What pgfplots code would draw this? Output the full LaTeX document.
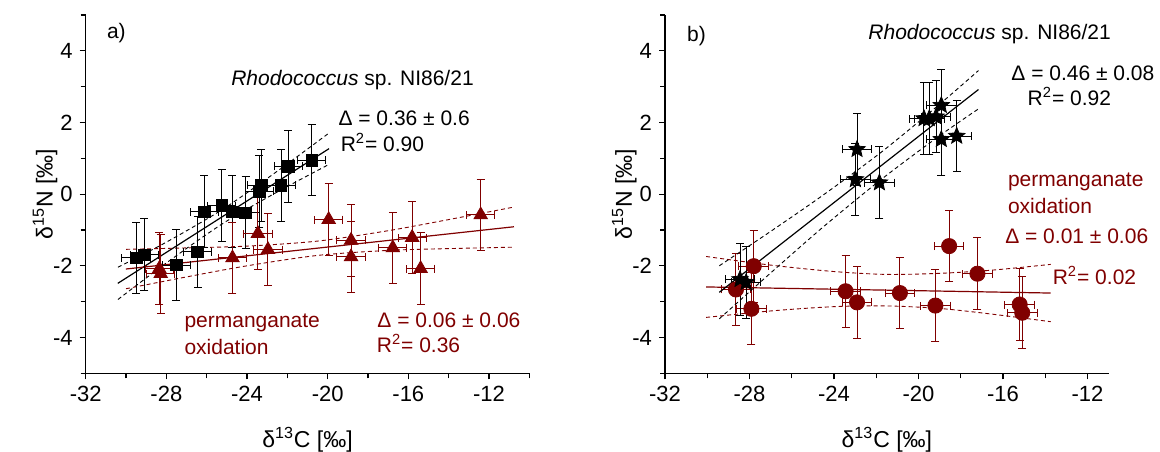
\documentclass[border=0pt]{standalone}
\usepackage{fontspec}
\setmainfont{Liberation Sans}
\usepackage{pgfplots}
\pgfplotsset{compat=1.18}
\definecolor{mr}{RGB}{128,0,0}
\pgfdeclareplotmark{fstar}{%
  \pgfpathmoveto{\pgfpointpolar{90}{\pgfplotmarksize}}%
  \pgfpathlineto{\pgfpointpolar{126}{0.45\pgfplotmarksize}}%
  \pgfpathlineto{\pgfpointpolar{162}{\pgfplotmarksize}}%
  \pgfpathlineto{\pgfpointpolar{198}{0.45\pgfplotmarksize}}%
  \pgfpathlineto{\pgfpointpolar{234}{\pgfplotmarksize}}%
  \pgfpathlineto{\pgfpointpolar{270}{0.45\pgfplotmarksize}}%
  \pgfpathlineto{\pgfpointpolar{306}{\pgfplotmarksize}}%
  \pgfpathlineto{\pgfpointpolar{342}{0.45\pgfplotmarksize}}%
  \pgfpathlineto{\pgfpointpolar{18}{\pgfplotmarksize}}%
  \pgfpathlineto{\pgfpointpolar{54}{0.45\pgfplotmarksize}}%
  \pgfpathclose\pgfusepathqfillstroke}
\newcommand{\af}{\fontsize{10.5}{12}\selectfont}
\tikzset{txt/.style={anchor=base west, inner sep=0pt, font=\af}}
\pgfplotsset{
  panel/.style={
    scale only axis, width=221.8pt, height=179.15pt,
    xmin=-32, ymin=-5, ymax=5,
    axis x line=bottom, axis y line=left,
    axis line style={-, line width=0.6pt},
    tick align=outside,
    major tick length=3pt, minor tick length=2.5pt,
    every tick/.style={black, line width=0.6pt},
    xtick={-32,-28,-24,-20,-16,-12},
    xticklabels={-32,-28,-24,-20,-16,-12},
    ytick={-4,-2,0,2,4},
    yticklabels={-4,-2,0,2,4},
    minor ytick={-5,-3,-1,1,3,5},
    ticklabel style={font=\fontsize{11}{13}\selectfont},
    xlabel={δ\textsuperscript{13}C [‰]},
    ylabel={δ\textsuperscript{15}N [‰]},
    label style={font=\fontsize{11.5}{13}\selectfont},
    xlabel style={at={(axis description cs:0.5,-0.186)}, anchor=center},
    ylabel style={at={(axis description cs:-0.0915,0.5)}, anchor=center},
    clip=false,
  },
  eb/.style={only marks, error bars/.cd, x dir=both, x explicit, y dir=both, y explicit,
    error bar style={line width=0.5pt, #1},
    error mark options={rotate=90, mark size=2pt, line width=0.5pt, #1}, /pgfplots/.cd},
  band/.style={#1, line width=0.45pt, dash pattern=on 2pt off 1.5pt, smooth},
}
\begin{document}
\begin{tikzpicture}
\path[use as bounding box] (0,0) rectangle (580pt,225.5pt);
% ---------------- panel a
\begin{axis}[panel, at={(42.85pt,38.85pt)}, anchor=south west, xmax=-10,
  minor xtick={-30,-26,-22,-18,-14,-10}]
\addplot[band=black] coordinates {(-30.4,-2.04) (-28,-1.34) (-25.2,-0.42) (-22.5,0.64) (-19.9,1.72)};
\addplot[band=black] coordinates {(-30.4,-2.94) (-28,-1.92) (-25.2,-0.82) (-22.5,0.06) (-19.9,0.84)};
\addplot[black, line width=0.6pt] coordinates {(-30.41,-2.49) (-19.93,1.27)};
\addplot[band=mr] coordinates {(-30,-1.54) (-27,-1.50) (-24,-1.45) (-20.5,-1.31) (-17,-1.02) (-14,-0.71) (-10.76,-0.36)};
\addplot[band=mr] coordinates {(-30,-2.64) (-27,-2.31) (-24,-2.00) (-20.5,-1.71) (-17,-1.57) (-14,-1.52) (-10.76,-1.48)};
\addplot[mr, line width=0.6pt] coordinates {(-30.01,-2.09) (-10.76,-0.91)};
\addplot[mark=square*, mark size=2.9pt, black, eb=black] table[x=x, y=y, x error=ex, y error=ey] {
x y ex ey
-29.50 -1.78 0.7 1
-29.09 -1.69 0.7 1
-27.51 -1.98 0.7 1
-26.45 -1.61 0.7 1
-26.11 -0.49 0.7 1
-25.25 -0.32 0.7 1
-24.72 -0.49 0.7 1
-24.07 -0.52 0.7 1
-23.39 0.08 0.7 1
-23.29 0.25 0.7 1
-22.31 0.25 0.7 1
-21.96 0.78 0.7 1
-20.79 0.95 0.7 1
};
\addplot[mark=triangle*, mark size=3.9pt, mr, eb=mr] table[x=x, y=y, x error=ex, y error=ey] {
x y ex ey
-28.35 -2.08 0.7 1
-28.28 -2.22 0.7 1.1
-24.72 -1.78 0.7 1
-23.46 -1.10 0.7 1
-22.96 -1.55 0.7 1
-19.95 -0.71 0.7 1
-18.84 -1.29 0.7 1
-18.84 -1.75 0.7 1
-16.77 -1.50 0.7 1
-15.81 -1.21 0.7 1
-15.39 -2.08 0.7 1
-12.41 -0.58 0.7 1
};
\node[txt] at (axis cs:-30.96,4.34) {a)};
\node[txt] at (axis cs:-24.8,3.02) {\textit{Rhodococcus} sp. NI86/21};
\node[txt] at (axis cs:-19.48,1.92) {Δ = 0.36 ± 0.6};
\node[txt] at (axis cs:-19.37,1.18) {R\textsuperscript{2}= 0.90};
\node[txt, text=mr] at (axis cs:-27.12,-3.73) {permanganate};
\node[txt, text=mr] at (axis cs:-27.12,-4.48) {oxidation};
\node[txt, text=mr] at (axis cs:-17.55,-3.73) {Δ = 0.06 ± 0.06};
\node[txt, text=mr] at (axis cs:-17.58,-4.41) {R\textsuperscript{2}= 0.36};
\end{axis}
% ---------------- panel b
\begin{axis}[panel, at={(332.5pt,38.85pt)}, anchor=south west, xmax=-11,
  minor xtick={-30,-26,-22,-18,-14}]
\addplot[band=mr] coordinates {(-30.05,-1.74) (-27,-1.98) (-24,-2.16) (-21.5,-2.24) (-19,-2.21) (-16.5,-2.12) (-13.74,-1.96)};
\addplot[band=mr] coordinates {(-30.05,-3.44) (-27,-3.26) (-24,-3.14) (-21.5,-3.12) (-19,-3.19) (-16.5,-3.35) (-13.74,-3.56)};
\addplot[mr, line width=0.6pt] coordinates {(-30.05,-2.59) (-13.74,-2.76)};
\addplot[mark=*, mark size=3.8pt, mr, eb=mr] table[x=x, y=y, x error=ex, y error=ey] {
x y ex ey
-28.64 -2.66 0.7 1
-27.80 -2.01 0.7 1
-27.91 -3.20 0.7 1
-23.45 -2.71 0.7 1
-22.91 -3.02 0.7 1
-20.88 -2.76 0.7 1
-19.20 -3.11 0.7 1
-18.55 -1.45 0.7 1
-17.21 -2.22 0.7 1
-15.21 -3.08 0.7 1
-15.09 -3.31 0.7 1
};
\addplot[band=black] coordinates {(-29.43,-2.00) (-27,-1.04) (-24.5,-0.02) (-21.7,1.20) (-19,2.51) (-17.16,3.45)};
\addplot[band=black] coordinates {(-29.43,-3.48) (-27,-2.20) (-24.5,-0.91) (-21.7,0.44) (-19,1.63) (-17.16,2.38)};
\addplot[black, line width=0.6pt] coordinates {(-29.43,-2.74) (-17.16,2.92)};
\addplot[mark=fstar, mark size=4.3pt, black, eb=black] table[x=x, y=y, x error=ex, y error=ey] {
x y ex ey
-28.45 -2.38 0.7 1
-28.16 -2.46 0.7 1
-22.91 1.25 0.7 1
-22.99 0.41 0.7 1
-21.85 0.32 0.7 1
-19.74 2.11 0.7 1
-19.49 2.11 0.7 1
-19.17 2.16 0.7 1
-18.92 2.48 0.7 1
-18.92 1.53 0.7 1
-18.19 1.62 0.7 1
};
\node[txt] at (axis cs:-30.97,4.27) {b)};
\node[txt] at (axis cs:-22.39,4.32) {\textit{Rhodococcus} sp. NI86/21};
\node[txt] at (axis cs:-15.62,3.18) {Δ = 0.46 ± 0.08};
\node[txt] at (axis cs:-14.85,2.48) {R\textsuperscript{2}= 0.92};
\node[txt, text=mr] at (axis cs:-15.78,0.2) {permanganate};
\node[txt, text=mr] at (axis cs:-15.78,-0.54) {oxidation};
\node[txt, text=mr] at (axis cs:-15.91,-1.38) {Δ = 0.01 ± 0.06};
\node[txt, text=mr] at (axis cs:-13.66,-2.52) {R\textsuperscript{2}= 0.02};
\end{axis}
\end{tikzpicture}
\end{document}
